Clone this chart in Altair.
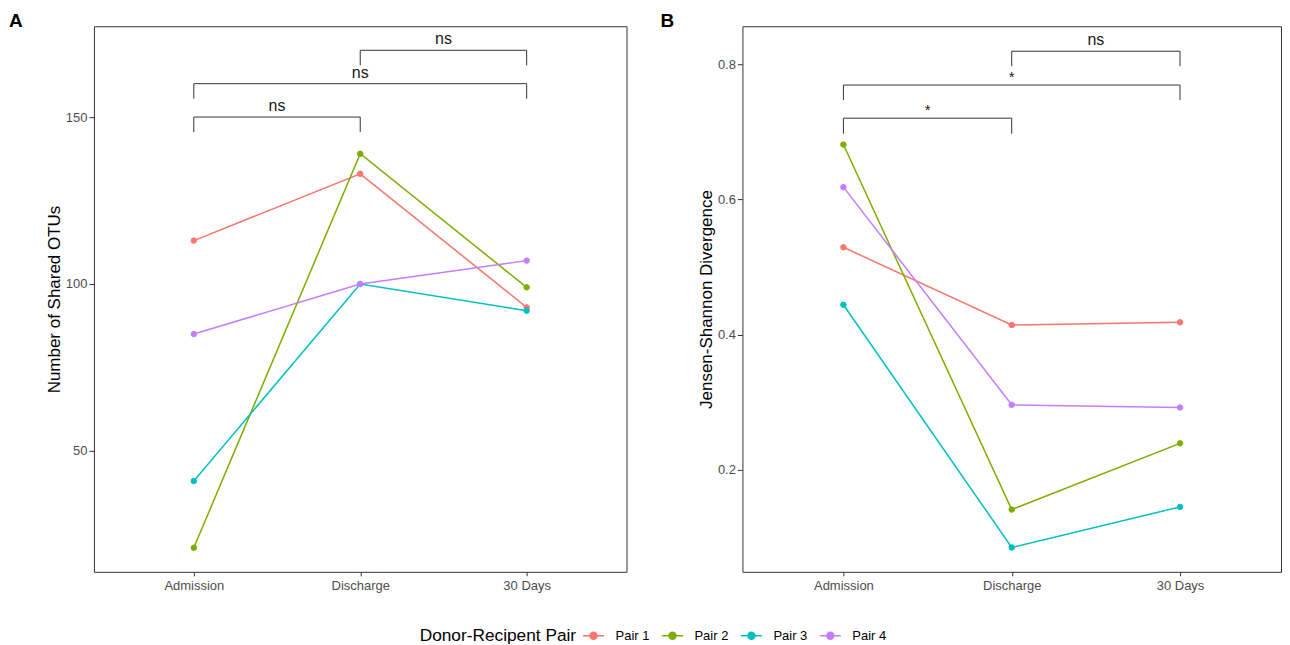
import altair as alt
import pandas as pd

categories = ["Admission", "Discharge", "30 Days"]
pairs = ["Pair 1", "Pair 2", "Pair 3", "Pair 4"]
colors = ["#F8766D", "#7CAE00", "#00BFC4", "#C77CFF"]

otus_pair1 = [113, 133, 93]
otus_pair2 = [21, 139, 99]
otus_pair3 = [41, 100, 92]
otus_pair4 = [85, 100, 107]

jsd_pair1 = [0.529, 0.414, 0.418]
jsd_pair2 = [0.681, 0.141, 0.239]
jsd_pair3 = [0.444, 0.085, 0.145]
jsd_pair4 = [0.618, 0.296, 0.292]

bracket_from = [0, 0, 1]
bracket_to = [1, 2, 2]
otus_bracket_y = [150, 160, 170]
otus_bracket_tip = [145.5, 155.5, 165.5]
otus_bracket_label = ["ns", "ns", "ns"]
jsd_bracket_y = [0.72, 0.769, 0.819]
jsd_bracket_tip = [0.697, 0.747, 0.797]
jsd_bracket_label = ["*", "*", "ns"]

FONT = "Liberation Sans"
SYMBOL = "M-1.75,0L1.75,0M0.58,0A0.58,0.58,0,1,1,-0.58,0A0.58,0.58,0,1,1,0.58,0Z"

color_scale = alt.Scale(domain=pairs, range=colors)
legend = alt.Legend(
    orient="none", legendX=326, legendY=603, direction="horizontal",
    title="Donor-Recipent Pair", titleOrient="left", titleFontSize=17.3,
    titleFontWeight="normal", titleColor="black", titleFont=FONT, titlePadding=10,
    labelFontSize=13, labelColor="black", labelFont=FONT, labelOffset=15,
    columnPadding=9, symbolType=SYMBOL, symbolSize=144, symbolStrokeWidth=1.5,
    symbolOpacity=1,
)


def panel(series, b_y, b_tip, b_label, ytitle, ydomain, yvalues, yformat, letter, width, dx):
    rows = []
    for pair, vals in zip(pairs, series):
        for i, v in enumerate(vals):
            rows.append({"t": i, "v": v, "pair": pair})
    df = pd.DataFrame(rows)

    segs = []
    labs = []
    for a, b, y, tip, lab in zip(bracket_from, bracket_to, b_y, b_tip, b_label):
        segs.append({"t": a, "t2": b, "v": y, "v2": y})
        segs.append({"t": a, "t2": a, "v": y, "v2": tip})
        segs.append({"t": b, "t2": b, "v": y, "v2": tip})
        labs.append({"t": (a + b) / 2, "v": y, "label": lab})
    dseg = pd.DataFrame(segs)
    dlab = pd.DataFrame(labs)

    x = alt.X("t:Q", scale=alt.Scale(domain=[-0.6, 2.6], nice=False, zero=False),
              axis=alt.Axis(values=[0, 1, 2], title=None, tickSize=4, labelPadding=4,
                            labelExpr="%s[datum.value]" % str(categories)))
    y = alt.Y("v:Q", scale=alt.Scale(domain=ydomain, nice=False, zero=False),
              axis=alt.Axis(values=yvalues, format=yformat, title=ytitle, tickSize=5,
                            labelPadding=2, titlePadding=2))
    stroke = alt.Stroke("pair:N", scale=color_scale, legend=legend)
    fill = alt.Fill("pair:N", scale=color_scale, legend=legend)

    lines = alt.Chart(df).mark_line(strokeWidth=1.5).encode(x=x, y=y, stroke=stroke)
    points = alt.Chart(df).mark_point(filled=True, size=30, opacity=1, strokeWidth=1).encode(
        x=x, y=y, fill=fill, stroke=stroke)
    rules = alt.Chart(dseg).mark_rule(color="#333333", strokeWidth=1).encode(
        x=x, y=y, x2="t2:Q", y2="v2:Q")
    texts_ns = alt.Chart(dlab).transform_filter("datum.label == 'ns'").mark_text(
        font=FONT, fontSize=16, color="#1a1a1a", baseline="alphabetic", dy=-6
    ).encode(x=x, y=y, text="label:N")
    texts_star = alt.Chart(dlab).transform_filter("datum.label != 'ns'").mark_text(
        font=FONT, fontSize=15, color="#1a1a1a", baseline="alphabetic", dy=-3
    ).encode(x=x, y=y, text="label:N")

    return alt.layer(lines, points, rules, texts_ns, texts_star).properties(
        width=width, height=546,
        title=alt.TitleParams(letter, anchor="start", frame="group", fontSize=19,
                              fontWeight="bold", font=FONT, color="black", dx=dx, dy=5,
                              offset=0),
    )


pa = panel([otus_pair1, otus_pair2, otus_pair3, otus_pair4], otus_bracket_y, otus_bracket_tip,
           otus_bracket_label, "Number of Shared OTUs", [13.8, 177.2], [50, 100, 150], "d",
           "A", 533, -85)
pb = panel([jsd_pair1, jsd_pair2, jsd_pair3, jsd_pair4], jsd_bracket_y, jsd_bracket_tip,
           jsd_bracket_label, "Jensen-Shannon Divergence", [0.049, 0.856], [0.2, 0.4, 0.6, 0.8],
           ".1f", "B", 539, -82)

chart = alt.hconcat(pa, pb, spacing=32).properties(
    padding={"left": 0, "top": 3, "right": 0, "bottom": 0},
    background="white",
).configure_view(stroke="#333333", strokeWidth=1).configure_axis(
    grid=False, domain=False, tickColor="#333333", tickWidth=1,
    labelColor="#4d4d4d", labelFontSize=13, labelFont=FONT,
    titleFontSize=17, titleFontWeight="normal", titleColor="black", titleFont=FONT,
)

chart.save("out.html", embed_options={"renderer": "svg", "actions": False})
